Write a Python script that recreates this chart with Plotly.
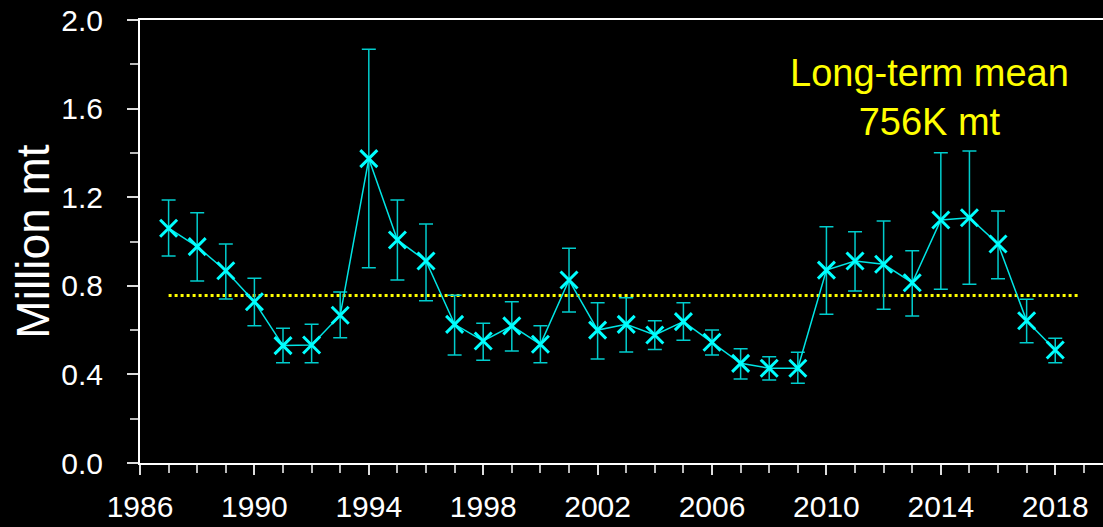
import plotly.graph_objects as go

years = list(range(1987, 2019))
biomass = [1.06, 0.977, 0.868, 0.728, 0.530, 0.533, 0.667, 1.374,
           1.007, 0.912, 0.626, 0.551, 0.619, 0.536, 0.826, 0.600,
           0.626, 0.578, 0.638, 0.545, 0.450, 0.428, 0.428, 0.871,
           0.912, 0.897, 0.814, 1.097, 1.107, 0.989, 0.642, 0.510]
upper = [1.187, 1.130, 0.989, 0.834, 0.608, 0.626, 0.772, 1.868,
         1.187, 1.079, 0.757, 0.631, 0.728, 0.620, 0.969, 0.724,
         0.746, 0.642, 0.724, 0.600, 0.516, 0.480, 0.500, 1.067,
         1.044, 1.093, 0.958, 1.401, 1.409, 1.138, 0.739, 0.563]
lower = [0.935, 0.822, 0.740, 0.620, 0.453, 0.453, 0.566, 0.882,
         0.826, 0.733, 0.488, 0.464, 0.506, 0.453, 0.682, 0.470,
         0.501, 0.512, 0.554, 0.488, 0.379, 0.375, 0.360, 0.671,
         0.777, 0.694, 0.664, 0.784, 0.807, 0.832, 0.543, 0.453]
mean_val = 0.756
mean_span = [1987, 2018.8]

err_up = [u - v for u, v in zip(upper, biomass)]
err_dn = [v - l for v, l in zip(biomass, lower)]

fig = go.Figure()
fig.add_trace(go.Scatter(
    x=mean_span, y=[mean_val, mean_val], mode="lines",
    line=dict(color="#FFFF00", width=3, dash="dot"), hoverinfo="skip"))
fig.add_trace(go.Scatter(
    x=years, y=biomass, mode="lines+markers",
    line=dict(color="#00E5E5", width=1.5),
    marker=dict(symbol="x-thin", size=17, line=dict(width=3, color="#00FFFF")),
    error_y=dict(type="data", symmetric=False, array=err_up, arrayminus=err_dn,
                 color="#00CDCD", thickness=1.5, width=7)))

fig.add_annotation(
    x=2013.6, y=1.65, xref="x", yref="y",
    text="Long-term mean<br>756K mt", showarrow=False,
    font=dict(family="Liberation Sans, Arial", size=38, color="#FFFF00"),
    align="center", yanchor="middle")

# y-axis title as a rotated annotation (standoff is ignored without automargin)
fig.add_annotation(
    x=-0.112, y=0.5, xref="paper", yref="paper",
    text="Million mt", showarrow=False, textangle=-90,
    font=dict(family="Liberation Sans, Arial", size=46, color="#FFFFFF"),
    xanchor="center", yanchor="middle")

tick_font = dict(family="Liberation Sans, Arial", size=30, color="#FFFFFF")
fig.update_layout(
    width=1103, height=527,
    paper_bgcolor="black", plot_bgcolor="black",
    showlegend=False,
    margin=dict(l=140, r=0, t=20, b=64),
    xaxis=dict(range=[1986, 2019.67], tick0=1986, dtick=4, automargin=False,
               showgrid=False, zeroline=False,
               showline=True, linecolor="#FFFFFF", linewidth=2, mirror=True,
               ticks="outside", ticklen=10, tickwidth=2, tickcolor="#DDDDDD",
               ticklabelstandoff=6, tickfont=tick_font,
               minor=dict(dtick=1, ticks="outside", ticklen=8, tickwidth=1.5,
                          tickcolor="#BBBBBB", showgrid=False)),
    yaxis=dict(range=[0, 2.0], tick0=0, dtick=0.4, tickformat=".1f",
               automargin=False,
               showgrid=False, zeroline=False,
               showline=True, linecolor="#FFFFFF", linewidth=2,
               ticks="outside", ticklen=11, tickwidth=2, tickcolor="#DDDDDD",
               ticklabelstandoff=18, tickfont=tick_font,
               minor=dict(dtick=0.2, ticks="outside", ticklen=8, tickwidth=1.5,
                          tickcolor="#BBBBBB", showgrid=False)),
)

# drop the default 8px page margin so the figure sits at the window corner
fig.write_html("out.html", config={"displayModeBar": False},
               post_script="document.body.style.margin='0';"
                           "document.body.style.background='black';")
